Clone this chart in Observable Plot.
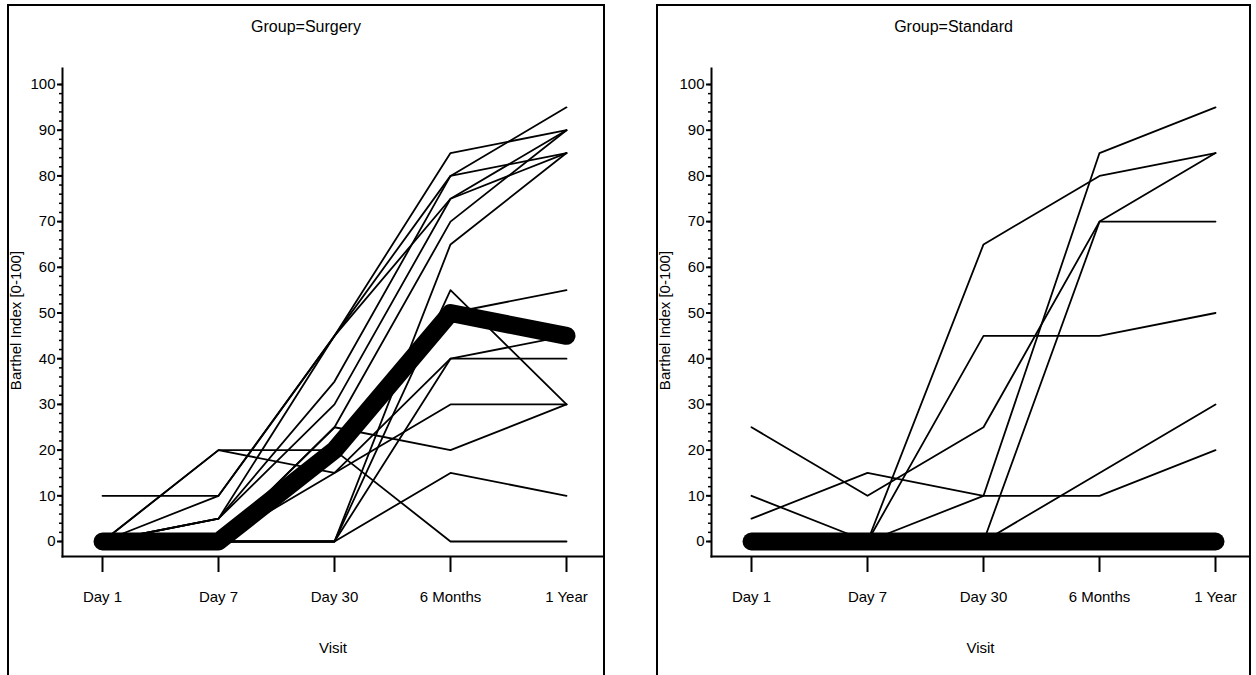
<!DOCTYPE html>
<html>
<head>
<meta charset="utf-8">
<script src="https://cdn.jsdelivr.net/npm/d3@7"></script>
<script src="https://cdn.jsdelivr.net/npm/@observablehq/plot@0.6"></script>
<style>
  html, body { margin: 0; padding: 0; width: 1256px; height: 675px; overflow: hidden; background: #fff;
               font-family: "Liberation Sans", Arial, sans-serif; }
  .panel { position: absolute; top: 4px; height: 700px; border: 2px solid #000; border-bottom: none; box-sizing: border-box; }
  .title { position: absolute; left: 0; right: 0; top: 12px; text-align: center; font-size: 16px; line-height: 18px; color: #000; }
  .panel svg { position: absolute; left: -7px; top: 0; overflow: visible; max-width: none !important; height: 669px !important; }
</style>
</head>
<body>
<div id="surgery" class="panel" style="left:7px; width:598px;"></div>
<div id="standard" class="panel" style="left:656px; width:595px;"></div>
<script>
// Visits on the horizontal axis
const visits = ["Day 1", "Day 7", "Day 30", "6 Months", "1 Year"];

// Y-axis ticks (major every 10, minor every 2)
const yMajorTicks = d3.range(0, 101, 10);
const yMinorTicks = d3.range(0, 101, 2);

// Barthel Index per patient, one row per patient, one value per visit
const surgeryScores = [
  [0, 20, 20, 50, 55],
  [0, 20, 15, 40, 40],
  [10, 10, 45, 85, 90],
  [0, 10, 45, 80, 95],
  [0, 5, 45, 75, 90],
  [0, 5, 35, 80, 85],
  [0, 5, 30, 75, 85],
  [0, 0, 25, 70, 90],
  [0, 0, 25, 20, 30],
  [0, 0, 0, 65, 85],
  [0, 0, 0, 55, 30],
  [0, 0, 0, 40, 45],
  [0, 0, 0, 15, 10],
  [0, 0, 15, 30, 30],
  [0, 0, 20, 0, 0]
];
const surgeryMedian = [0, 0, 20, 50, 45];

const standardScores = [
  [25, 10, 25, 70, 85],
  [0, 0, 0, 70, 70],
  [0, 0, 65, 80, 85],
  [0, 0, 10, 85, 95],
  [0, 0, 45, 45, 50],
  [5, 15, 10, 10, 20],
  [0, 0, 0, 15, 30],
  [10, 0, 0, 0, 0]
];
const standardMedian = [0, 0, 0, 0, 0];

const yLabel = "Barthel Index [0-100]";
const xLabel = "Visit";

function drawPanel(id, title, scores, median, width, xRange) {
  const rows = scores.flatMap((s, i) => s.map((v, j) => ({id: i, visit: visits[j], score: v})));
  const medRows = median.map((v, j) => ({visit: visits[j], score: v}));
  const el = document.getElementById(id);
  const t = document.createElement("div");
  t.className = "title";
  t.textContent = title;
  el.appendChild(t);
  const chart = Plot.plot({
    width, height: 669,
    marginLeft: 60, marginRight: 0, marginTop: 62, marginBottom: 119,
    style: {fontFamily: '"Liberation Sans", Arial, sans-serif', fontSize: "15px", color: "#000", background: "transparent"},
    x: {type: "point", domain: visits, range: xRange, padding: 0},
    y: {domain: [0, 100], range: [535, 78]},
    marks: [
      Plot.frame({anchor: "left", stroke: "#000", strokeWidth: 2}),
      Plot.frame({anchor: "bottom", stroke: "#000", strokeWidth: 2}),
      Plot.axisY(yMinorTicks, {tickSize: 3, tickFormat: () => "", strokeWidth: 1.5, label: null}),
      Plot.axisY(yMajorTicks, {tickSize: 5, tickPadding: 2, strokeWidth: 2, label: null}),
      Plot.axisX({tickSize: 16, tickPadding: 19, strokeWidth: 2, label: null}),
      Plot.text([yLabel], {frameAnchor: "left", textAnchor: "middle", lineAnchor: "middle", rotate: -90, dx: -46, dy: 8}),
      Plot.text([xLabel], {frameAnchor: "bottom", textAnchor: "middle", lineAnchor: "middle", dy: 92}),
      Plot.line(rows, {x: "visit", y: "score", z: "id", stroke: "#000", strokeWidth: 1.8}),
      Plot.line(medRows, {x: "visit", y: "score", stroke: "#000", strokeWidth: 18,
                          strokeLinecap: "round", strokeLinejoin: "round"})
    ]
  });
  el.appendChild(chart);
}

drawPanel("surgery", "Group=Surgery", surgeryScores, surgeryMedian, 601, [99, 564]);
drawPanel("standard", "Group=Standard", standardScores, standardMedian, 598, [98, 565]);
</script>
</body>
</html>
